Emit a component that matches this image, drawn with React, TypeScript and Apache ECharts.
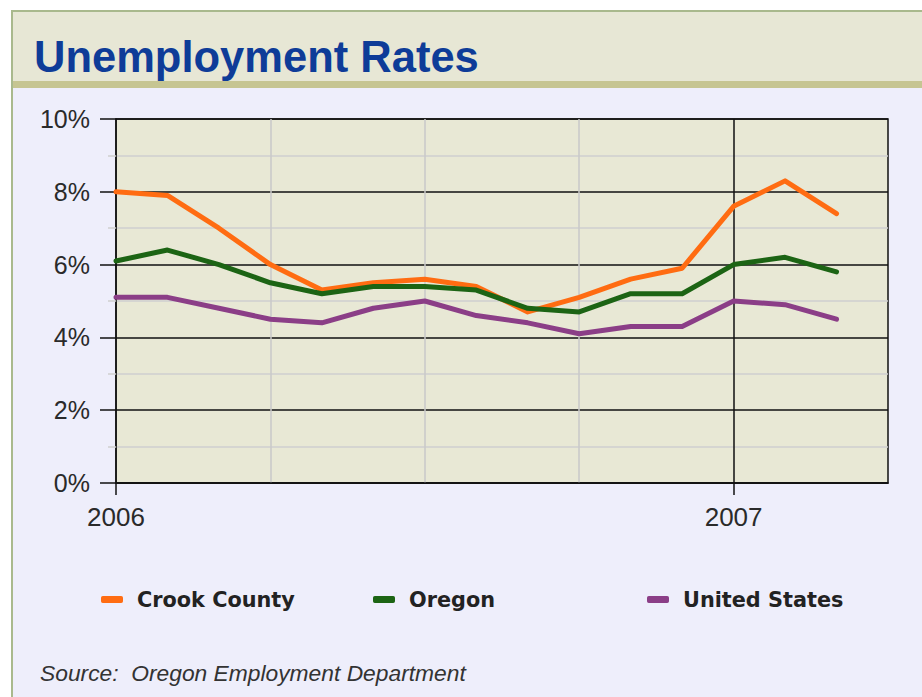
import React, { useEffect, useRef } from "react";
import * as echarts from "echarts";

const months = [
  "Jan 2006", "Feb 2006", "Mar 2006", "Apr 2006", "May 2006", "Jun 2006",
  "Jul 2006", "Aug 2006", "Sep 2006", "Oct 2006", "Nov 2006", "Dec 2006",
  "Jan 2007", "Feb 2007", "Mar 2007", "Apr 2007",
];
const crookCounty = [8.0, 7.9, 7.0, 6.0, 5.3, 5.5, 5.6, 5.4, 4.7, 5.1, 5.6, 5.9, 7.6, 8.3, 7.4, null];
const oregon = [6.1, 6.4, 6.0, 5.5, 5.2, 5.4, 5.4, 5.3, 4.8, 4.7, 5.2, 5.2, 6.0, 6.2, 5.8, null];
const unitedStates = [5.1, 5.1, 4.8, 4.5, 4.4, 4.8, 5.0, 4.6, 4.4, 4.1, 4.3, 4.3, 5.0, 4.9, 4.5, null];
const yearLabels: Record<number, string> = { 0: "2006", 12: "2007" };
const quarterLines = [3, 6, 9];
const yearLines = [12];

const seriesNames = ["Crook County", "Oregon", "United States"];
const seriesColors = ["#ff6c12", "#1c6414", "#8b3e87"];

export default function App() {
  const ref = useRef<HTMLDivElement>(null);
  useEffect(() => {
    if (!ref.current) return;
    const chart = echarts.init(ref.current, undefined, { renderer: "svg" });
    const values = [crookCounty, oregon, unitedStates];
    const legendLefts = [101, 373, 647];
    chart.setOption({
      animation: false,
      backgroundColor: "#eeeefb",
      graphic: [
        { type: "rect", shape: { x: 0, y: 0, width: 922, height: 10 }, style: { fill: "#ffffff" } },
        { type: "rect", shape: { x: 0, y: 0, width: 11, height: 697 }, style: { fill: "#ffffff" } },
        { type: "rect", shape: { x: 11, y: 10, width: 911, height: 2 }, style: { fill: "#a9b98d" } },
        { type: "rect", shape: { x: 11, y: 10, width: 2, height: 687 }, style: { fill: "#a9b98d" } },
        { type: "rect", shape: { x: 13, y: 12, width: 909, height: 69 }, style: { fill: "#e7e7d5" } },
        { type: "rect", shape: { x: 13, y: 81, width: 909, height: 7 }, style: { fill: "#c6c592" } },
      ],
      title: [
        {
          text: "Unemployment Rates",
          left: 34,
          top: 35,
          padding: 0,
          textStyle: { fontFamily: "Liberation Sans", fontWeight: "bold", fontSize: 43.5, color: "#0e3c98" },
        },
        {
          text: "Source:  Oregon Employment Department",
          left: 40,
          top: 661,
          padding: 0,
          textStyle: { fontFamily: "Liberation Sans", fontStyle: "italic", fontWeight: "normal", fontSize: 22.8, color: "#333333" },
        },
      ],
      legend: seriesNames.map((n, i) => ({
        data: [n],
        left: legendLefts[i],
        top: 589,
        padding: 0,
        icon: "roundRect",
        itemWidth: 22,
        itemHeight: 7,
        textStyle: { fontFamily: "DejaVu Sans", fontWeight: "bold", fontSize: 20.8, color: "#222222", padding: [0, 0, 0, 9] },
      })),
      grid: {
        left: 116,
        top: 119,
        width: 772,
        height: 364,
        show: true,
        backgroundColor: "#e8e8d5",
        borderColor: "#111111",
        borderWidth: 1.5,
      },
      xAxis: [
        {
          type: "category",
          data: months,
          boundaryGap: false,
          axisLine: { lineStyle: { color: "#111111", width: 1.5 } },
          axisTick: {
            show: true,
            length: 12,
            interval: (i: number) => yearLabels[i] !== undefined,
            lineStyle: { color: "#111111", width: 1.5 },
          },
          axisLabel: {
            interval: (i: number) => yearLabels[i] !== undefined,
            formatter: (_v: string, i: number) => yearLabels[i] ?? "",
            margin: 21,
            fontFamily: "Liberation Sans",
            fontSize: 26,
            color: "#2a2a2a",
          },
          splitLine: {
            show: true,
            interval: (i: number) => quarterLines.includes(i),
            lineStyle: { color: "#c9c9c9", width: 1.5 },
          },
        },
        {
          type: "category",
          data: months,
          boundaryGap: false,
          position: "bottom",
          axisLine: { show: false },
          axisTick: { show: false },
          axisLabel: { show: false },
          splitLine: {
            show: true,
            interval: (i: number) => yearLines.includes(i),
            lineStyle: { color: "#111111", width: 1.5 },
          },
        },
      ],
      yAxis: {
        type: "value",
        min: 0,
        max: 10,
        interval: 2,
        axisLine: { show: true, lineStyle: { color: "#111111", width: 1.5 } },
        axisTick: { show: true, length: 16, lineStyle: { color: "#111111", width: 1.5 } },
        minorTick: { show: true, splitNumber: 2, length: 8, lineStyle: { color: "#cfcfcf", width: 1.5 } },
        minorSplitLine: { show: true, lineStyle: { color: "#cfcfcf", width: 1.5 } },
        splitLine: { show: true, lineStyle: { color: "#111111", width: 1.5 } },
        axisLabel: {
          formatter: "{value}%",
          margin: 26,
          fontFamily: "Liberation Sans",
          fontSize: 25,
          color: "#2a2a2a",
        },
      },
      series: seriesNames.map((n, i) => ({
        name: n,
        type: "line",
        data: values[i],
        color: seriesColors[i],
        showSymbol: false,
        symbol: "none",
        lineStyle: { width: 5, color: seriesColors[i], cap: "round", join: "round" },
        z: 3 + i,
      })),
    });
    return () => chart.dispose();
  }, []);
  return <div ref={ref} style={{ position: "absolute", left: 0, top: 0, width: 922, height: 697 }} />;
}
